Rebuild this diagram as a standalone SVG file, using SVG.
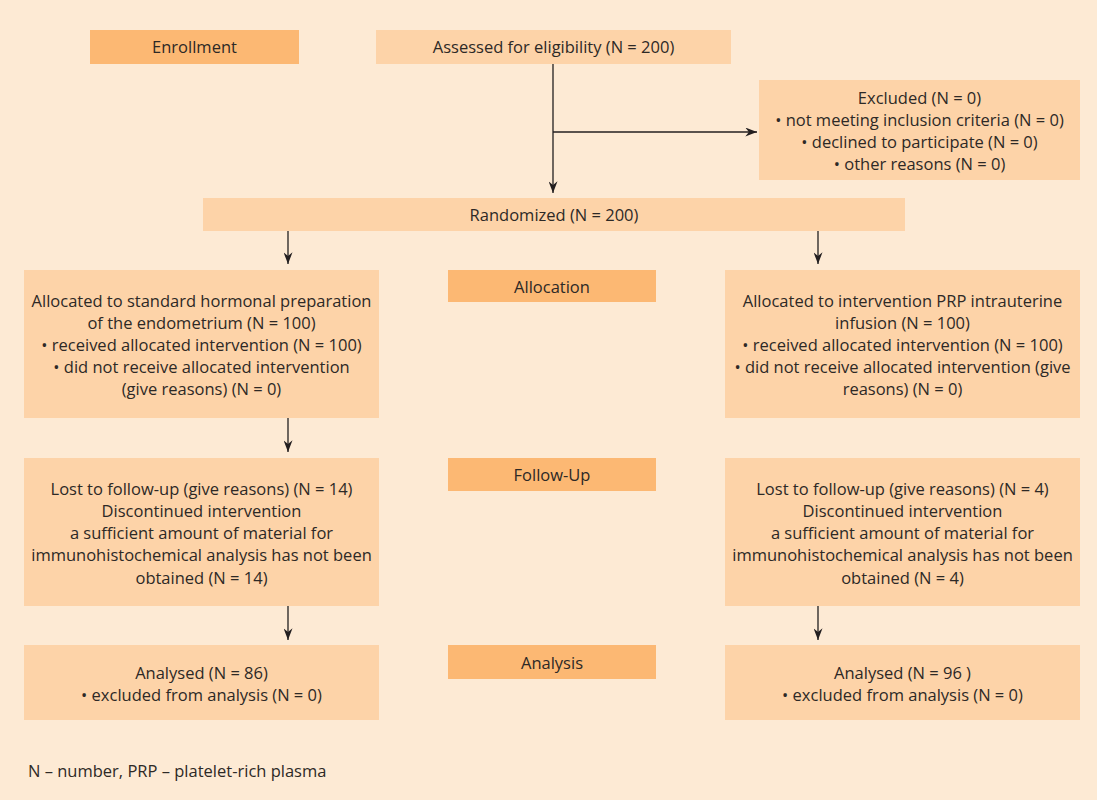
<svg xmlns="http://www.w3.org/2000/svg" width="1097" height="800" viewBox="0 0 1097 800">
<defs>
<style>
.bg{fill:#FDEAD4}
.box{fill:#FDD3A8}
.lab{fill:#FCB873}
text{font-family:"Open Sans","Liberation Sans",Arial,sans-serif;font-size:16.5px;fill:#2d2926;text-anchor:middle}
.ln{stroke:#231f20;stroke-width:1.3;fill:none}
</style>
<marker id="ahd" viewBox="0 0 10 14" refX="5" refY="13" markerWidth="9" markerHeight="13" markerUnits="userSpaceOnUse" orient="0">
<path d="M0,0 L5,4 L10,0 L5,13 Z" fill="#231f20"/>
</marker>
<marker id="ahr" viewBox="0 0 14 10" refX="13" refY="5" markerWidth="13" markerHeight="9" markerUnits="userSpaceOnUse" orient="0">
<path d="M0,0 L13,5 L0,10 L4,5 Z" fill="#231f20"/>
</marker>
</defs>
<rect class="bg" x="0" y="0" width="1097" height="800"/>

<g id="enrollment"><rect class="lab" x="90" y="30" width="209" height="34"/><text x="194.5" y="53">Enrollment</text></g>
<g id="assessed"><rect class="box" x="376" y="30" width="355" height="34"/><text x="553.5" y="53">Assessed for eligibility (N = 200)</text></g>
<g id="excluded"><rect class="box" x="759" y="80" width="321" height="100"/>
<text x="919.5" y="104">Excluded (N = 0)</text>
<text x="919.5" y="126">• not meeting inclusion criteria (N = 0)</text>
<text x="919.5" y="148">• declined to participate (N = 0)</text>
<text x="919.5" y="170">• other reasons (N = 0)</text></g>
<g id="randomized"><rect class="box" x="203" y="198" width="702" height="33"/><text x="554" y="221">Randomized (N = 200)</text></g>

<g id="alloc-left"><rect class="box" x="24" y="270" width="355" height="148"/>
<text x="201.5" y="307">Allocated to standard hormonal preparation</text>
<text x="201.5" y="329">of the endometrium (N = 100)</text>
<text x="201.5" y="351">• received allocated intervention (N = 100)</text>
<text x="201.5" y="373">• did not receive allocated intervention</text>
<text x="201.5" y="395">(give reasons) (N = 0)</text></g>
<g id="allocation"><rect class="lab" x="448" y="270" width="208" height="32"/><text x="552" y="293">Allocation</text></g>
<g id="alloc-right"><rect class="box" x="725" y="270" width="355" height="148"/>
<text x="902.5" y="307">Allocated to intervention PRP intrauterine</text>
<text x="902.5" y="329">infusion (N = 100)</text>
<text x="902.5" y="351">• received allocated intervention (N = 100)</text>
<text x="902.5" y="373">• did not receive allocated intervention (give</text>
<text x="902.5" y="395">reasons) (N = 0)</text></g>

<g id="fu-left"><rect class="box" x="24" y="458" width="355" height="148"/>
<text x="201.5" y="495">Lost to follow-up (give reasons) (N = 14)</text>
<text x="201.5" y="517">Discontinued intervention</text>
<text x="201.5" y="539">a sufficient amount of material for</text>
<text x="201.5" y="561">immunohistochemical analysis has not been</text>
<text x="201.5" y="584">obtained (N = 14)</text></g>
<g id="followup"><rect class="lab" x="448" y="458" width="208" height="33"/><text x="552" y="481">Follow-Up</text></g>
<g id="fu-right"><rect class="box" x="725" y="458" width="355" height="148"/>
<text x="902.5" y="495">Lost to follow-up (give reasons) (N = 4)</text>
<text x="902.5" y="517">Discontinued intervention</text>
<text x="902.5" y="539">a sufficient amount of material for</text>
<text x="902.5" y="561">immunohistochemical analysis has not been</text>
<text x="902.5" y="584">obtained (N = 4)</text></g>

<g id="an-left"><rect class="box" x="24" y="645" width="355" height="75"/>
<text x="201.5" y="679">Analysed (N = 86)</text>
<text x="201.5" y="701">• excluded from analysis (N = 0)</text></g>
<g id="analysis"><rect class="lab" x="448" y="645" width="208" height="34"/><text x="552" y="669">Analysis</text></g>
<g id="an-right"><rect class="box" x="725" y="645" width="355" height="75"/>
<text x="902.5" y="679">Analysed (N = 96 )</text>
<text x="902.5" y="701">• excluded from analysis (N = 0)</text></g>

<g id="footnote"><text x="28" y="777" style="text-anchor:start">N – number, PRP – platelet-rich plasma</text></g>

<g id="connectors">
<line class="ln" x1="553" y1="64" x2="553" y2="193" marker-end="url(#ahd)"/>
<line class="ln" x1="553" y1="132" x2="757" y2="132" marker-end="url(#ahr)"/>
<line class="ln" x1="288" y1="231" x2="288" y2="264" marker-end="url(#ahd)"/>
<line class="ln" x1="818" y1="231" x2="818" y2="264" marker-end="url(#ahd)"/>
<line class="ln" x1="288" y1="418" x2="288" y2="452" marker-end="url(#ahd)"/>
<line class="ln" x1="288" y1="606" x2="288" y2="640" marker-end="url(#ahd)"/>
<line class="ln" x1="818" y1="606" x2="818" y2="640" marker-end="url(#ahd)"/>
</g>
</svg>
